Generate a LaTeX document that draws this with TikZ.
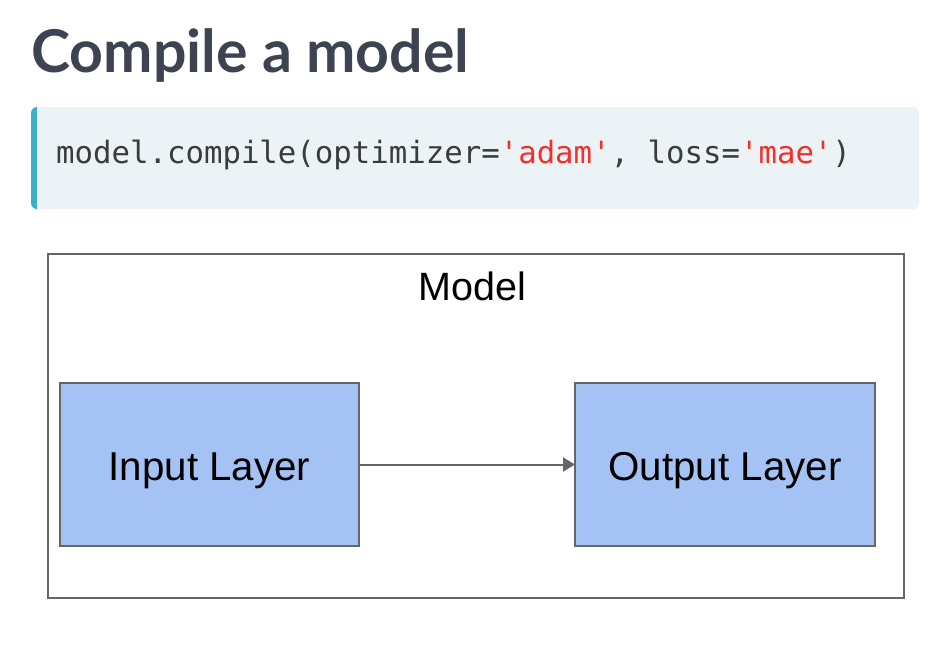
\documentclass[tikz,border=0pt]{standalone}
\usepackage{fontspec}
\setmainfont{Liberation Sans}
\newfontfamily\titlefont{Lato}
\newfontfamily\codefont{DejaVu Sans Mono}
\usetikzlibrary{arrows.meta}
\definecolor{titlegray}{HTML}{3D4350}
\definecolor{codebg}{HTML}{EBF3F6}
\definecolor{codebar}{HTML}{3EAFCA}
\definecolor{codetext}{HTML}{3B3B3B}
\definecolor{codestr}{HTML}{F2302B}
\definecolor{layerfill}{HTML}{A4C2F4}
\definecolor{edgegray}{HTML}{666666}
\tikzset{
  layer/.style={draw=edgegray, line width=1.3pt, fill=layerfill, minimum width=299pt,
    minimum height=163pt, inner sep=0pt, outer sep=0pt, text height=31pt, text depth=0pt,
    font=\fontsize{40.3}{46}\selectfont},
  frame/.style={draw=edgegray, line width=1.3pt, minimum width=856pt, minimum height=344pt,
    inner sep=0pt, outer sep=0pt},
  flow/.style={draw=edgegray, line width=2pt, -{Triangle[length=12pt,width=14pt]}}
}
\begin{document}
\begin{tikzpicture}[x=1pt,y=-1pt]
  \useasboundingbox (0,0) rectangle (936,648);
  % heading
  \node[anchor=base west, inner sep=0pt, text=titlegray,
        font=\titlefont\bfseries\fontsize{59}{66}\selectfont] (title) at (31,72) {Compile a model};
  % code block with accent bar
  \fill[codebg, rounded corners=6pt] (31,107) rectangle (919,209);
  \begin{scope}
    \clip[rounded corners=6pt] (31,107) rectangle (919,209);
    \fill[codebar] (31,107) rectangle (37,209);
  \end{scope}
  \node[anchor=base west, inner sep=0pt, text=codetext,
        font=\codefont\fontsize{30.7}{36}\selectfont] (code) at (56,163)
    {model.compile(optimizer=\textcolor{codestr}{'adam'}, loss=\textcolor{codestr}{'mae'})};
  % model frame
  \node[frame] (model) at (476,426) {};
  \node[anchor=base, inner sep=0pt, font=\fontsize{39.5}{45}\selectfont] (modellabel) at (472,300) {Model};
  % layers
  \node[layer] (input) at (209.5,464.5) {Input Layer};
  \node[layer, minimum width=300pt] (output) at (725,464.5) {Output Layer};
  \draw[flow] (input) -- (output);
\end{tikzpicture}
\end{document}
